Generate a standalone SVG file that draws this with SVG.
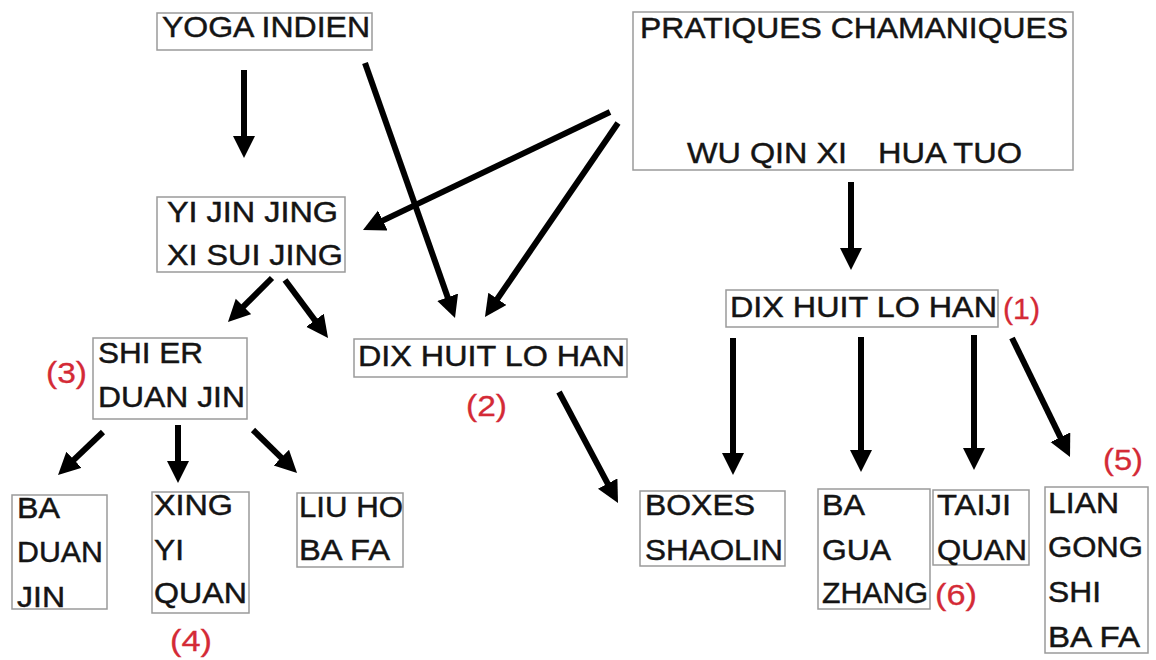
<svg xmlns="http://www.w3.org/2000/svg" width="1156" height="660" viewBox="0 0 1156 660">
<style>
.box{fill:#fff;stroke:#9a9a9a;stroke-width:1.5}
.t{font-family:"Liberation Sans",Arial,sans-serif;font-size:29.5px;fill:#141414;stroke:#141414;stroke-width:0.45}
.r{font-family:"Liberation Sans",Arial,sans-serif;font-size:29px;fill:#d42a36;stroke:#d42a36;stroke-width:0.3}
.a{stroke:#000;stroke-width:6;fill:none;marker-end:url(#ah)}
</style>
<defs>
<marker id="ah" markerUnits="userSpaceOnUse" markerWidth="24" markerHeight="24" refX="6" refY="11" orient="auto">
<path d="M0,0 L22,11 L0,22 z" fill="#000"/>
</marker>
</defs>
<rect width="1156" height="660" fill="#fff"/>
<g id="connectors">
<line class="a" x1="244" y1="70" x2="244" y2="142"/>
<line class="a" x1="365" y1="63" x2="449.7" y2="302.9"/>
<line class="a" x1="610" y1="112" x2="377.4" y2="223.1"/>
<line class="a" x1="618" y1="123" x2="494" y2="303.8"/>
<line class="a" x1="851" y1="182" x2="851" y2="254"/>
<line class="a" x1="272" y1="278" x2="239.3" y2="310.7"/>
<line class="a" x1="285" y1="280" x2="318.5" y2="325.1"/>
<line class="a" x1="103" y1="432" x2="69.6" y2="463.9"/>
<line class="a" x1="178" y1="425" x2="178" y2="467"/>
<line class="a" x1="253" y1="430" x2="285.6" y2="461.8"/>
<line class="a" x1="559" y1="392" x2="610.5" y2="488.9"/>
<line class="a" x1="733" y1="338" x2="733" y2="459"/>
<line class="a" x1="861" y1="337" x2="861" y2="456"/>
<line class="a" x1="974" y1="335" x2="974" y2="454"/>
<line class="a" x1="1012" y1="338" x2="1063" y2="442.6"/>
</g>
<g id="yoga">
<rect class="box" x="157" y="13" width="215" height="37"/>
<text class="t" x="162" y="37" textLength="208" lengthAdjust="spacingAndGlyphs">YOGA INDIEN</text>
</g>
<g id="pratiques">
<rect class="box" x="633" y="12" width="440" height="158"/>
<text class="t" x="640" y="38" textLength="428" lengthAdjust="spacingAndGlyphs">PRATIQUES CHAMANIQUES</text>
<text class="t" x="687" y="163" textLength="160" lengthAdjust="spacingAndGlyphs">WU QIN XI</text>
<text class="t" x="878" y="163" textLength="144" lengthAdjust="spacingAndGlyphs">HUA TUO</text>
</g>
<g id="yijin">
<rect class="box" x="157" y="197" width="188" height="75"/>
<text class="t" x="167" y="222" textLength="171" lengthAdjust="spacingAndGlyphs">YI JIN JING</text>
<text class="t" x="167" y="265" textLength="176" lengthAdjust="spacingAndGlyphs">XI SUI JING</text>
</g>
<g id="dix1">
<rect class="box" x="726" y="290" width="272" height="37"/>
<text class="t" x="730" y="317" textLength="267" lengthAdjust="spacingAndGlyphs">DIX HUIT LO HAN</text>
<text class="r" x="1003" y="319" textLength="37" lengthAdjust="spacingAndGlyphs">(1)</text>
</g>
<g id="dix2">
<rect class="box" x="354" y="339" width="273" height="38"/>
<text class="t" x="358" y="366" textLength="267" lengthAdjust="spacingAndGlyphs">DIX HUIT LO HAN</text>
<text class="r" x="466" y="416" textLength="41" lengthAdjust="spacingAndGlyphs">(2)</text>
</g>
<g id="shier">
<rect class="box" x="93" y="338" width="154" height="81"/>
<text class="t" x="98" y="363" textLength="105" lengthAdjust="spacingAndGlyphs">SHI ER</text>
<text class="t" x="98" y="407" textLength="147" lengthAdjust="spacingAndGlyphs">DUAN JIN</text>
<text class="r" x="46" y="383" textLength="41" lengthAdjust="spacingAndGlyphs">(3)</text>
</g>
<g id="baduan">
<rect class="box" x="12" y="495" width="95" height="114"/>
<text class="t" x="17" y="518" textLength="43" lengthAdjust="spacingAndGlyphs">BA</text>
<text class="t" x="17" y="562" textLength="86" lengthAdjust="spacingAndGlyphs">DUAN</text>
<text class="t" x="17" y="607" textLength="48" lengthAdjust="spacingAndGlyphs">JIN</text>
</g>
<g id="xingyi">
<rect class="box" x="152" y="492" width="97" height="121"/>
<text class="t" x="154" y="515" textLength="79" lengthAdjust="spacingAndGlyphs">XING</text>
<text class="t" x="154" y="560" textLength="30" lengthAdjust="spacingAndGlyphs">YI</text>
<text class="t" x="154" y="603" textLength="93" lengthAdjust="spacingAndGlyphs">QUAN</text>
<text class="r" x="170" y="651" textLength="42" lengthAdjust="spacingAndGlyphs">(4)</text>
</g>
<g id="liuho">
<rect class="box" x="297" y="493" width="106" height="74"/>
<text class="t" x="299" y="517" textLength="104" lengthAdjust="spacingAndGlyphs">LIU HO</text>
<text class="t" x="299" y="560" textLength="91" lengthAdjust="spacingAndGlyphs">BA FA</text>
</g>
<g id="boxes">
<rect class="box" x="640" y="491" width="145" height="75"/>
<text class="t" x="645" y="515" textLength="110" lengthAdjust="spacingAndGlyphs">BOXES</text>
<text class="t" x="645" y="560" textLength="138" lengthAdjust="spacingAndGlyphs">SHAOLIN</text>
</g>
<g id="bagua">
<rect class="box" x="818" y="489" width="112" height="120"/>
<text class="t" x="822" y="515" textLength="43" lengthAdjust="spacingAndGlyphs">BA</text>
<text class="t" x="822" y="560" textLength="69" lengthAdjust="spacingAndGlyphs">GUA</text>
<text class="t" x="822" y="603" textLength="106" lengthAdjust="spacingAndGlyphs">ZHANG</text>
<text class="r" x="935" y="605" textLength="42" lengthAdjust="spacingAndGlyphs">(6)</text>
</g>
<g id="taiji">
<rect class="box" x="933" y="490" width="96" height="75"/>
<text class="t" x="937" y="515" textLength="74" lengthAdjust="spacingAndGlyphs">TAIJI</text>
<text class="t" x="937" y="560" textLength="90" lengthAdjust="spacingAndGlyphs">QUAN</text>
</g>
<g id="lian">
<rect class="box" x="1045" y="487" width="103" height="166"/>
<text class="t" x="1048" y="513" textLength="71" lengthAdjust="spacingAndGlyphs">LIAN</text>
<text class="t" x="1048" y="557" textLength="95" lengthAdjust="spacingAndGlyphs">GONG</text>
<text class="t" x="1048" y="602" textLength="53" lengthAdjust="spacingAndGlyphs">SHI</text>
<text class="t" x="1048" y="647" textLength="92" lengthAdjust="spacingAndGlyphs">BA FA</text>
<text class="r" x="1103" y="470" textLength="40" lengthAdjust="spacingAndGlyphs">(5)</text>
</g>
</svg>
